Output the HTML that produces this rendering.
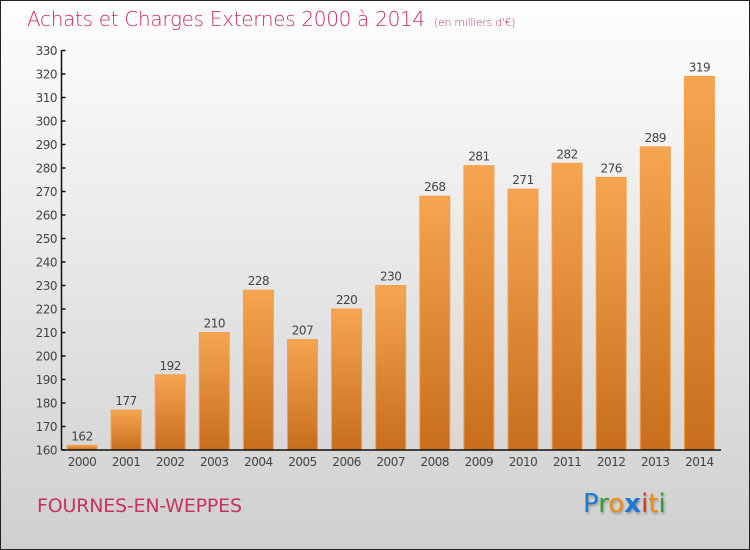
<!DOCTYPE html>
<html><head><meta charset="utf-8"><style>
body{margin:0}
#wrap{width:750px;height:550px;position:relative;box-sizing:border-box;border:1px solid #222;background:linear-gradient(#fefefe,#cfcfcf);font-family:"DejaVu Sans","Liberation Sans",sans-serif;overflow:hidden}
.t{position:absolute;color:#c8325e}
</style></head><body>
<div id="wrap">
<div class="t" style="left:26px;top:6px;font-size:20px;font-weight:200;letter-spacing:-0.3px">Achats et Charges Externes 2000 à 2014 <span style="font-size:11px">&nbsp;(en milliers d'€)</span></div>
<div class="t" style="left:36px;top:494px;font-size:19px;letter-spacing:-0.2px">FOURNES-EN-WEPPES</div>
<div style="position:absolute;left:582px;top:488px;font-size:26px;text-shadow:1px 2px 2px #999"><span style="color:#1a7ad6">P</span><span style="color:#3a9a3a">r</span><span style="color:#f08a10">o</span><span style="color:#1a7ad6;font-weight:bold">x</span><span style="color:#e03020">i</span><span style="color:#f08a10">t</span><span style="color:#3a9a3a">i</span></div>
<svg id="svg" width="750" height="550" style="position:absolute;left:-1px;top:-1px">
<defs><linearGradient id="g" x1="0" y1="0" x2="0" y2="1"><stop offset="0" stop-color="#f6a550"/><stop offset="1" stop-color="#c86e1c"/></linearGradient></defs>
</svg>
</div>
<script>
const years=["2000","2001","2002","2003","2004","2005","2006","2007","2008","2009","2010","2011","2012","2013","2014"];
const values=[162,177,192,210,228,207,220,230,268,281,271,282,276,289,319];
const yTicks=[160,170,180,190,200,210,220,230,240,250,260,270,280,290,300,310,320,330];
const svg=document.getElementById('svg');const NS='http://www.w3.org/2000/svg';
const yMin=160,yMax=330,y0=450,y1=50.5,x0=61.5,step=44.1;
function y(v){return y0-(v-yMin)/(yMax-yMin)*(y0-y1);}
function xc(i){return 82+i*step;}
function mk(t,a,txt){const e=document.createElementNS(NS,t);for(const k in a)e.setAttribute(k,a[k]);if(txt!==undefined)e.textContent=txt;svg.appendChild(e);return e;}
values.forEach((v,i)=>{
 const r=mk('rect',{x:xc(i)-15,y:y(v),width:30,height:y0-y(v),fill:'url(#g)',stroke:'#f3a04e','stroke-width':1});
 
 
 const l=mk('text',{x:xc(i),y:y(v)-5,'text-anchor':'middle','font-size':12,fill:'#444','font-family':'DejaVu Sans, sans-serif','letter-spacing':'-0.5'},v);
 
 
 const xl=mk('text',{x:xc(i),y:466,'text-anchor':'middle','font-size':12,fill:'#444','font-family':'DejaVu Sans, sans-serif','letter-spacing':'-0.5'},years[i]);
 
 
});
yTicks.forEach(t=>{
 const tk=mk('line',{x1:x0,x2:x0+4,y1:y(t),y2:y(t),stroke:'#111','stroke-width':1.5});
 
 
 const tl=mk('text',{x:57,y:y(t)+4.5,'text-anchor':'end','font-size':12,fill:'#444','font-family':'DejaVu Sans, sans-serif','letter-spacing':'-0.5'},t);
 
 
});
const ya=mk('line',{x1:x0,x2:x0,y1:y1,y2:y0,stroke:'#111','stroke-width':1.5});


const xa=mk('line',{x1:x0,x2:721,y1:y0,y2:y0,stroke:'#111','stroke-width':1.5});


</script>
</body></html>
